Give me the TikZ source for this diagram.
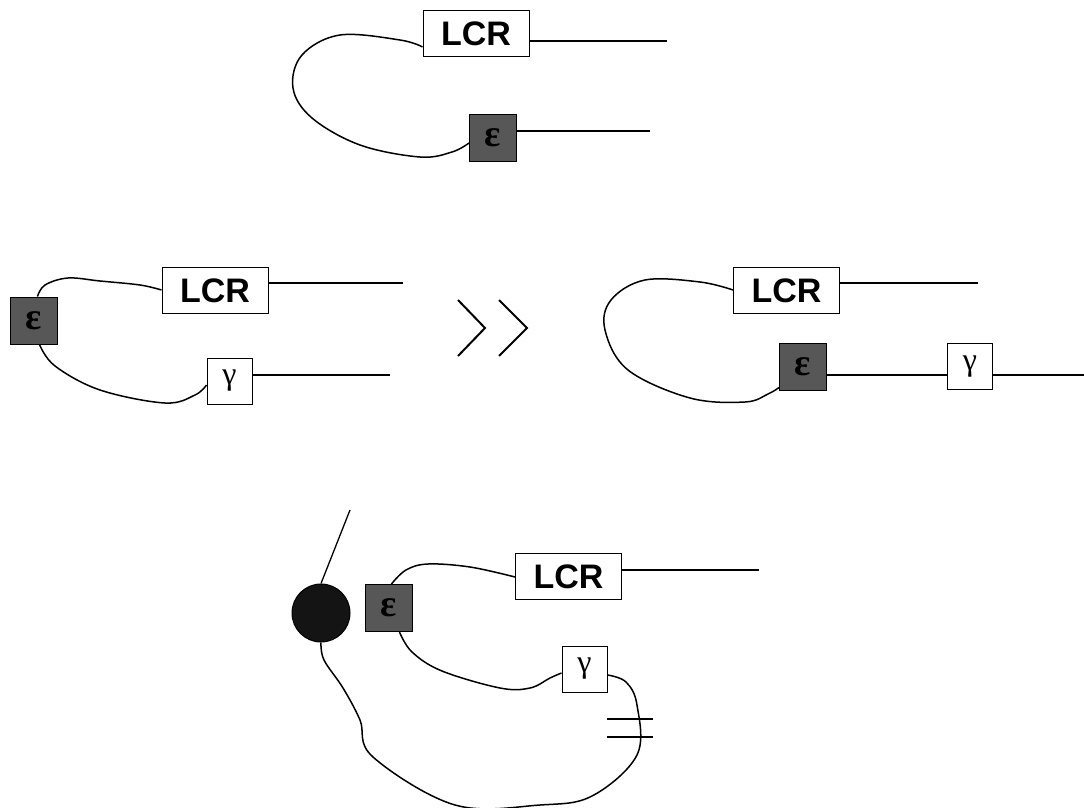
\documentclass[tikz,border=0pt]{standalone}
\usepackage{fontspec}
\setmainfont{Liberation Sans}
\newfontfamily\grk{Liberation Serif}
\begin{document}
\begin{tikzpicture}[x=1pt,y=-1pt,line width=1.3pt,
  lcr/.style={draw,fill=white,line width=1pt,minimum width=106pt,minimum height=46pt,inner sep=0pt,
    font=\fontsize{34}{34}\selectfont\bfseries},
  gam/.style={draw,fill=white,line width=1pt,minimum width=45pt,minimum height=46pt,inner sep=0pt,
    font=\grk\fontsize{32}{32}\selectfont},
  eps/.style={draw,fill=black!66,line width=1pt,minimum width=47pt,minimum height=47pt,inner sep=0pt,
    text=black,font=\grk\fontsize{38}{38}\selectfont\bfseries},
  wire/.style={line width=1.3pt},
  loop/.style={line width=1.5pt,smooth,tension=0.6}]
\useasboundingbox (0,0) rectangle (1084,808);

% ---------- top panel ----------
\node[lcr] (L1) at (476,33.5) {LCR};
\node[eps] (E1) at (493,138) {ε};
\coordinate (L1o) at (667,41);
\coordinate (E1o) at (650,131);
\draw[wire] ([yshift=-7.5pt]L1.east) -- (L1o);
\draw[wire] ([yshift=7pt]E1.east) -- (E1o);
\draw[loop] plot coordinates {([yshift=-13.5pt]L1.west) (400,40) (340,35) (302,55) (293,88) (312,118) (360,145) (420,157) (452,152) ([yshift=-5pt]E1.west)};

% ---------- middle left ----------
\node[lcr] (L2) at (215,290.5) {LCR};
\node[gam] (G2) at (229.5,381) {γ};
\node[eps] (E2) at (33.5,320.5) {ε};
\coordinate (L2o) at (403,283);
\coordinate (G2o) at (390,375);
\draw[wire] ([yshift=7.5pt]L2.east) -- (L2o);
\draw[wire] ([yshift=6pt]G2.east) -- (G2o);
\draw[loop] plot coordinates {([xshift=4pt]E2.north) (45,285) (68,278) (100,281) (140,285) ([yshift=0.5pt]L2.west)};
\draw[loop] plot coordinates {([xshift=6pt]E2.south) (55,366) (100,390) (165,403) (195,395) ([yshift=-4pt]G2.west)};

% ---------- chevrons ----------
\coordinate (c1a) at (458,300);
\coordinate (c1b) at (485,328);
\coordinate (c1c) at (458,356);
\coordinate (c2a) at (499,300);
\coordinate (c2b) at (527,328);
\coordinate (c2c) at (499,356);
\draw[line width=2pt] (c1a) -- (c1b) -- (c1c);
\draw[line width=2pt] (c2a) -- (c2b) -- (c2c);

% ---------- middle right ----------
\node[lcr] (L3) at (786.5,290.5) {LCR};
\node[eps] (E3) at (803,366.5) {ε};
\node[gam] (G3) at (970,366.5) {γ};
\coordinate (L3o) at (978,283);
\coordinate (G3o) at (1084,375);
\draw[wire] ([yshift=7.5pt]L3.east) -- (L3o);
\draw[wire] ([yshift=-8.5pt]E3.east) -- ([yshift=-8.5pt]G3.west);
\draw[wire] ([yshift=-8.5pt]G3.east) -- (G3o);
\draw[loop] plot coordinates {([yshift=0.5pt]L3.west) (700,282) (645,280) (611,300) (605,330) (628,370) (690,398) (745,402) (768,394) ([yshift=-21pt]E3.west)};

% ---------- bottom panel ----------
\node[circle,fill=black!92,draw,line width=1pt,minimum size=58pt,inner sep=0pt] (C) at (321,613) {};
\node[eps] (E4) at (388.5,608) {ε};
\node[lcr] (L4) at (568.5,576.5) {LCR};
\node[gam] (G4) at (584.5,669) {γ};
\coordinate (Ctop) at (350,510);
\coordinate (L4o) at (759,570);
\draw[wire] (C.north) -- (Ctop);
\draw[wire] ([yshift=6.5pt]L4.east) -- (L4o);
\draw[loop] plot coordinates {([xshift=3pt]E4.north) (406,570) (428,564) (470,567) ([yshift=-0.5pt]L4.west)};
\draw[loop] plot coordinates {([xshift=11pt]E4.south) (412,652) (442,671) (500,688) (530,688) (550,678) ([yshift=-4pt]G4.west)};
\draw[loop] plot coordinates {([yshift=-6pt]G4.east) (626,682) (637,705) (637,755) (592,796) (540,805) (455,805) (373,757) (360,720) (343,688) (324,660) (C.south)};
\coordinate (k1a) at (607,719);
\coordinate (k1b) at (653,719);
\coordinate (k2a) at (607,737);
\coordinate (k2b) at (653,737);
\draw[wire] (k1a) -- (k1b);
\draw[wire] (k2a) -- (k2b);
\end{tikzpicture}
\end{document}
